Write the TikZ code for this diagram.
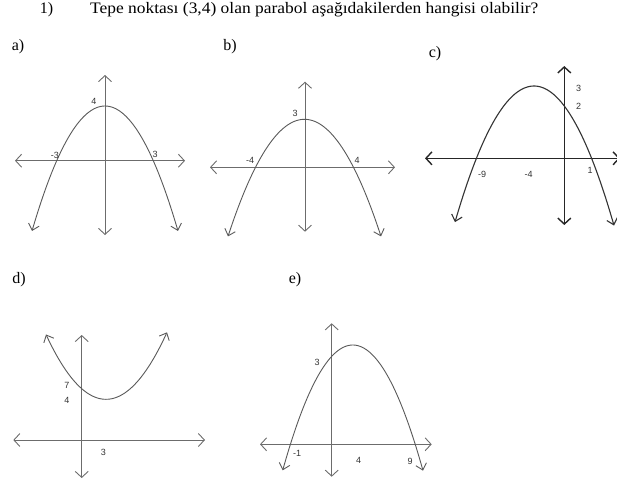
\documentclass[tikz,border=0pt]{standalone}
\usepackage{fontspec}
\usepackage{graphicx}
\setmainfont{Liberation Serif}
\newfontfamily\lblfont{Liberation Sans}
\usetikzlibrary{arrows.meta}
\tikzset{
  ax/.style={line width=0.9pt, draw=gray!85!black, {Straight Barb[length=6pt,width=13pt]}-{Straight Barb[length=6pt,width=13pt]}},
  axdark/.style={line width=1.4pt, draw=black!85, {Straight Barb[length=6pt,width=13pt]}-{Straight Barb[length=6pt,width=13pt]}},
  curve/.style={line width=0.9pt, draw=gray!70!black, samples=80, {Straight Barb[length=6pt,width=11pt]}-{Straight Barb[length=6pt,width=11pt]}},
  curvedark/.style={line width=1.1pt, draw=black!80, samples=80, {Straight Barb[length=6pt,width=11pt]}-{Straight Barb[length=6pt,width=11pt]}},
  lbl/.style={font=\lblfont\fontsize{9}{10}\selectfont, text=black!80, inner sep=0pt},
  part/.style={font=\fontsize{16}{18}\selectfont, inner sep=0pt},
}
\begin{document}
\begin{tikzpicture}[x=1pt,y=-1pt]
\useasboundingbox (0,0) rectangle (617,482);
% title
\node[part] (num) at (46.5,10) {1)};
\node[part, anchor=west] (title) at (90,10) {\scalebox{1.09}[1]{Tepe noktası (3,4) olan parabol aşağıdakilerden hangisi olabilir?}};
% part labels
\node[part] (la) at (18,47) {a)};
\node[part] (lb) at (230,47) {b)};
\node[part] (lc) at (435,54) {c)};
\node[part] (ld) at (19,280) {d)};
\node[part] (le) at (295,280) {e)};

% ---- a)
\coordinate (aL) at (15,160.7); \coordinate (aR) at (185,160.7);
\coordinate (aT) at (105,75); \coordinate (aB) at (105,235);
\draw[ax] (aL) -- (aR);
\draw[ax] (aB) -- (aT);
\draw[curve, domain=32:178] plot (\x, {106+0.02345*(\x-105)*(\x-105)});
\node[lbl] (a4) at (94,101) {4};
\node[lbl] (am3) at (55,155) {-3};
\node[lbl] (a3) at (155,154) {3};

% ---- b)
\coordinate (bL) at (210,167.3); \coordinate (bR) at (395,167.3);
\coordinate (bT) at (305,81.7); \coordinate (bB) at (305,231.7);
\draw[ax] (bL) -- (bR);
\draw[ax] (bB) -- (bT);
\draw[curve, domain=228:381] plot (\x, {119.3+0.0200*(\x-304.5)*(\x-304.5)});
\node[lbl] (b3) at (295,113.5) {3};
\node[lbl] (bm4) at (250,160) {-4};
\node[lbl] (b4) at (357,160) {4};

% ---- c)
\coordinate (cL) at (425,158.3); \coordinate (cR) at (620,158.3);
\coordinate (cT) at (564.3,66); \coordinate (cB) at (564.3,225);
\draw[axdark] (cL) -- (cR);
\draw[axdark] (cB) -- (cT);
\draw[curvedark, domain=455:614] plot (\x, {86+0.0218*(\x-534)*(\x-534)});
\node[lbl] (c3) at (578.5,88.5) {3};
\node[lbl] (c2) at (578.5,106.5) {2};
\node[lbl] (cm9) at (482,174) {-9};
\node[lbl] (cm4) at (528.5,174) {-4};
\node[lbl] (c1) at (590,170) {1};

% ---- d)
\coordinate (dL) at (13.3,440); \coordinate (dR) at (205,440);
\coordinate (dT) at (81.7,335); \coordinate (dB) at (81.7,478);
\draw[ax] (dL) -- (dR);
\draw[ax] (dB) -- (dT);
\draw[curve, domain=46:167] plot (\x, {399.3-0.0180*(\x-106)*(\x-106)});
\node[lbl] (d7) at (67,385) {7};
\node[lbl] (d4) at (67,400) {4};
\node[lbl] (d3) at (103.5,452.5) {3};

% ---- e)
\coordinate (eL) at (260,444.3); \coordinate (eR) at (431.7,444.3);
\coordinate (eT) at (331.7,323.3); \coordinate (eB) at (331.7,476.7);
\draw[ax] (eL) -- (eR);
\draw[ax] (eB) -- (eT);
\draw[curve, domain=282.7:423] plot (\x, {345+0.0255*(\x-352.8)*(\x-352.8)});
\node[lbl] (e3) at (317,362) {3};
\node[lbl] (em1) at (297,453.5) {-1};
\node[lbl] (e4) at (358.5,460) {4};
\node[lbl] (e9) at (410,461.5) {9};
\end{tikzpicture}
\end{document}
